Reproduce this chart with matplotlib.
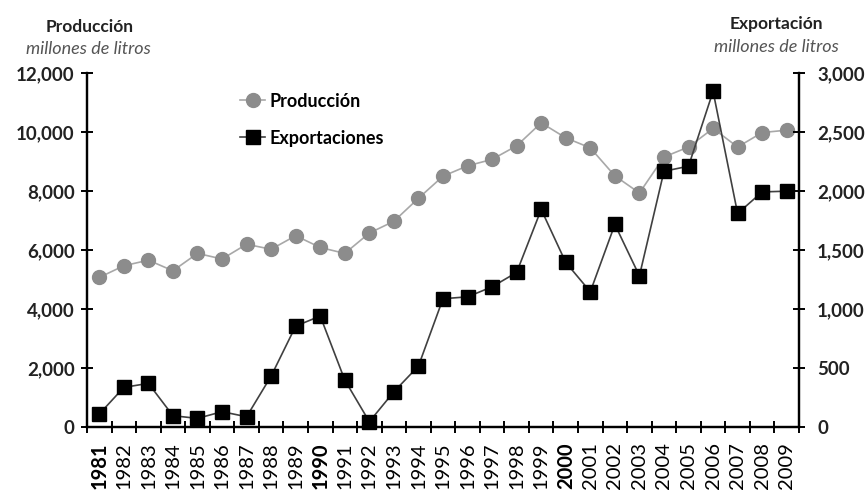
import matplotlib
matplotlib.use("Agg")
import matplotlib.pyplot as plt
import numpy as np

years = list(range(1981, 2010))
produccion = [5075, 5470, 5660, 5300, 5890, 5700, 6200, 6030, 6490, 6090, 5890, 6580,
              6980, 7760, 8510, 8860, 9080, 9540, 10320, 9810, 9470, 8520, 7940, 9160,
              9500, 10130, 9500, 9990, 10070]
exportaciones = [110, 336, 370, 96, 73, 130, 87, 432, 856, 941, 398, 45,
                 299, 517, 1088, 1104, 1189, 1311, 1845, 1396, 1147, 1718, 1282, 2169,
                 2212, 2847, 1811, 1994, 2000]
left_ticks = [0, 2000, 4000, 6000, 8000, 10000, 12000]
right_ticks = [0, 500, 1000, 1500, 2000, 2500, 3000]
bold_years = [1981, 1990, 2000]

fig = plt.figure(figsize=(8.66, 4.95), dpi=100)
ax = fig.add_axes([87/866, 1-427/495, (799-87)/866, (427-73.3)/495])
ax2 = ax.twinx()

x = np.arange(len(years))
ax.plot(x, produccion, color="#a8a8a8", lw=1.2, marker="o", ms=10,
        mfc="#8c8c8c", mec="#8c8c8c", zorder=3, label="Producción", clip_on=False)
ax2.plot(x, exportaciones, color="#404040", lw=1.2, marker="s", ms=9.5,
         mfc="black", mec="black", zorder=3, label="Exportaciones", clip_on=False)

for a in (ax, ax2):
    a.set_xlim(-0.5, len(years) - 0.5)
    a.spines["top"].set_visible(False)
    for s in ("left", "right", "bottom"):
        a.spines[s].set_linewidth(1.6)
        a.spines[s].set_color("black")

ax.set_ylim(0, 12000)
ax2.set_ylim(0, 3000)
ax.set_yticks(left_ticks)
ax.set_yticklabels([f"{v:,}" for v in left_ticks], fontsize=13.5, fontweight="bold",
                   family="Lato", color="#222222")
ax2.set_yticks(right_ticks)
ax2.set_yticklabels([f"{v:,}" for v in right_ticks], fontsize=13.5, fontweight="bold",
                    family="Lato", color="#222222")
ax.tick_params(axis="y", direction="inout", length=8, width=1.4, pad=5)
ax2.tick_params(axis="y", direction="inout", length=8, width=1.4, pad=9)

ax.set_xticks(x)
ax.set_xticklabels([str(y) for y in years], rotation=90, fontsize=14.5, family="Lato",
                   va="top")
for lbl, yr in zip(ax.get_xticklabels(), years):
    if yr in bold_years:
        lbl.set_fontweight("bold")
ax.set_xticks(np.arange(len(years) + 1) - 0.5, minor=True)
ax.tick_params(axis="x", which="major", length=0, pad=11)
ax.tick_params(axis="x", which="minor", direction="inout", length=8, width=1.4)
ax2.tick_params(axis="x", which="both", length=0)

fig.text(90/866, 1-27/495, "Producción", ha="center", va="center", fontsize=12.5,
         fontweight="bold", family="Lato", color="#222222")
fig.text(88/866, 1-49/495, "millones de litros", ha="center", va="center", fontsize=13,
         style="italic", color="#555555", family="Lato")
fig.text(776/866, 1-24/495, "Exportación", ha="center", va="center", fontsize=12.5,
         fontweight="bold", family="Lato", color="#222222")
fig.text(776/866, 1-47/495, "millones de litros", ha="center", va="center", fontsize=13,
         style="italic", color="#555555", family="Lato")

h1, l1 = ax.get_legend_handles_labels()
h2, l2 = ax2.get_legend_handles_labels()
leg = ax2.legend(h1 + h2, l1 + l2, loc="upper left", bbox_to_anchor=(0.215, 0.945),
                 frameon=False, handlelength=1.4, handletextpad=0.25, labelspacing=1.1,
                 borderpad=0, borderaxespad=0,
                 prop={"family": "Lato", "weight": "bold", "size": 13})

fig.savefig("out.png", dpi=100)
